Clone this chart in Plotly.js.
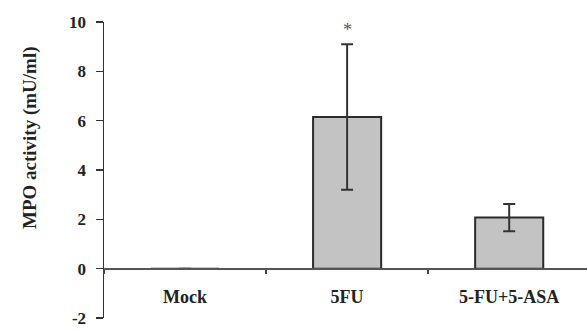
<!DOCTYPE html>
<html>
<head>
<script src="https://cdn.plot.ly/plotly-3.0.1.min.js"></script>
<style>html,body{margin:0;padding:0;background:#fff;}#chart{width:587px;height:331px;}</style>
</head>
<body>
<div id="chart"></div>
<script>
const categories = ["Mock", "5FU", "5-FU+5-ASA"];
const mpoValues = [0, 6.15, 2.07];
const mpoErrors = [0, 2.95, 0.55];
const significance = ["", "*", ""];
const yTickVals = [-2, 0, 2, 4, 6, 8, 10];
const yTitle = "MPO activity (mU/ml)";

const fam = "Liberation Serif, Times New Roman, serif";

const trace = {
  type: "bar",
  x: categories,
  y: mpoValues,
  width: 0.42,
  marker: {color: "#c3c3c3", line: {color: "#2a2a2a", width: 2}},
  error_y: {type: "data", array: mpoErrors, visible: true, color: "#333", thickness: 2, width: 6},
  hoverinfo: "skip"
};

const annotations = categories.map((c, i) => ({
  x: c, y: mpoValues[i] + mpoErrors[i], text: significance[i],
  showarrow: false, yanchor: "bottom", yshift: 2,
  font: {family: fam, size: 18, color: "#555"}
})).filter(a => a.text);

annotations.push({
  xref: "paper", yref: "paper", x: -0.152, y: 0.61,
  text: yTitle, textangle: -90, showarrow: false,
  xanchor: "center", yanchor: "middle",
  font: {family: fam, size: 19, color: "#222", weight: "bold"}
});

const layout = {
  width: 587, height: 331,
  margin: {l: 104, r: 0, t: 22, b: 13},
  paper_bgcolor: "#fff", plot_bgcolor: "#fff",
  showlegend: false,
  font: {family: fam, size: 16, color: "#222"},
  xaxis: {
    type: "category",
    range: [-0.5, 2.48],
    anchor: "free",
    position: 1/6,
    showline: true, linecolor: "#555", linewidth: 2.5,
    ticks: "outside", tickson: "boundaries", ticklen: 4, tickcolor: "#444", tickwidth: 1.5,
    ticklabelstandoff: 11,
    tickfont: {family: fam, size: 18, color: "#222", weight: "bold"},
    showgrid: false, zeroline: false, fixedrange: true
  },
  yaxis: {
    range: [-2, 10],
    tickvals: yTickVals,
    ticktext: yTickVals.map(String),
    showline: true, linecolor: "#333", linewidth: 1.5,
    ticks: "outside", ticklen: 7, tickcolor: "#333", tickwidth: 1.5,
    ticklabelstandoff: 6,
    tickfont: {family: fam, size: 17, color: "#222", weight: "bold"},
    showgrid: false, zeroline: false,
    fixedrange: true
  },
  annotations: annotations
};

Plotly.newPlot("chart", [trace], layout, {displayModeBar: false, staticPlot: true});
</script>
</body>
</html>
